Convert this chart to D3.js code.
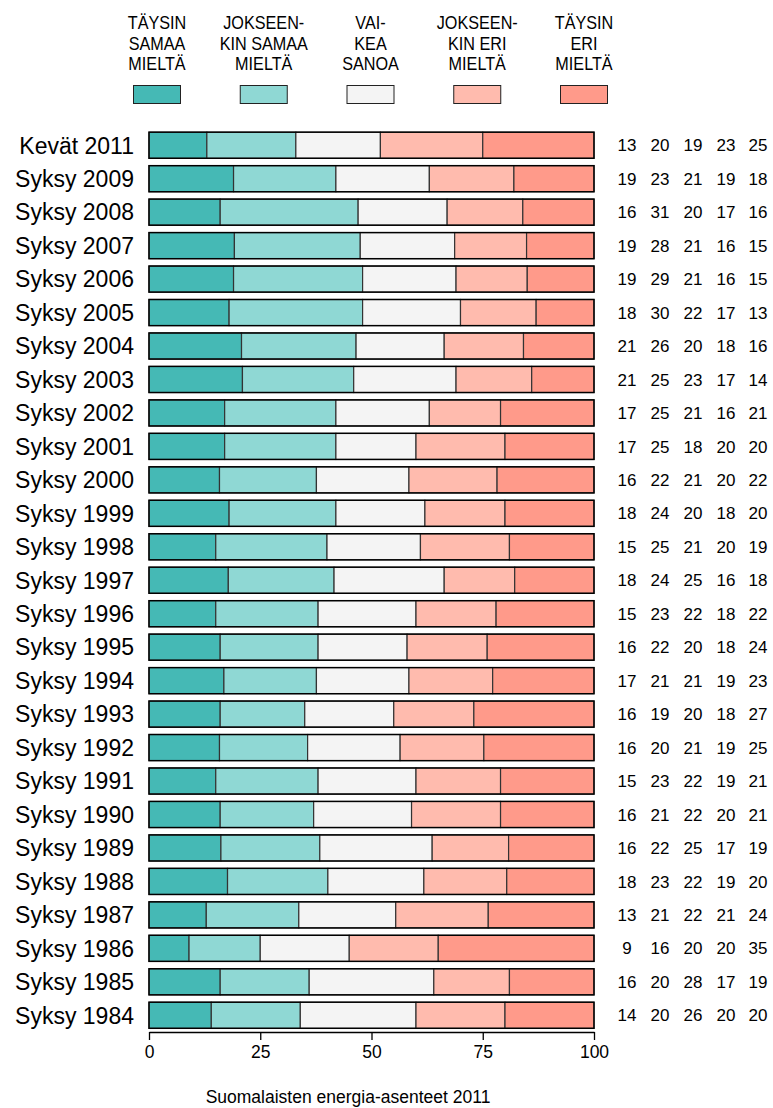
<!DOCTYPE html>
<html><head><meta charset="utf-8">
<script src="https://cdn.jsdelivr.net/npm/d3@7"></script>
<style>
body{margin:0;background:#fff;}
text{font-family:"Liberation Sans",Arial,sans-serif;fill:#000;}
</style></head>
<body>
<svg id="c" width="773" height="1108"></svg>
<script>
const categories = ["Kevät 2011","Syksy 2009","Syksy 2008","Syksy 2007","Syksy 2006","Syksy 2005","Syksy 2004","Syksy 2003","Syksy 2002","Syksy 2001","Syksy 2000","Syksy 1999","Syksy 1998","Syksy 1997","Syksy 1996","Syksy 1995","Syksy 1994","Syksy 1993","Syksy 1992","Syksy 1991","Syksy 1990","Syksy 1989","Syksy 1988","Syksy 1987","Syksy 1986","Syksy 1985","Syksy 1984"];
const taysinSamaa   = [13,19,16,19,19,18,21,21,17,17,16,18,15,18,15,16,17,16,16,15,16,16,18,13,9,16,14];
const jokseenSamaa  = [20,23,31,28,29,30,26,25,25,25,22,24,25,24,23,22,21,19,20,23,21,22,23,21,16,20,20];
const vaikeaSanoa   = [19,21,20,21,21,22,20,23,21,18,21,20,21,25,22,20,21,20,21,22,22,25,22,22,20,28,26];
const jokseenEri    = [23,19,17,16,16,17,18,17,16,20,20,18,20,16,18,18,19,18,19,19,20,17,19,21,20,17,20];
const taysinEri     = [25,18,16,15,15,13,16,14,21,20,22,20,19,18,22,24,23,27,25,21,21,19,20,24,35,19,20];
const seriesNames = [["TÄYSIN","SAMAA","MIELTÄ"],["JOKSEEN-","KIN SAMAA","MIELTÄ"],["VAI-","KEA","SANOA"],["JOKSEEN-","KIN ERI","MIELTÄ"],["TÄYSIN","ERI","MIELTÄ"]];
const colors = ["#45B9B5","#8FD8D4","#F4F4F4","#FFBBAE","#FF9A8A"];
const xTicks = [0,25,50,75,100];
const title = "Suomalaisten energia-asenteet 2011";

const series = [taysinSamaa,jokseenSamaa,vaikeaSanoa,jokseenEri,taysinEri];
const svg = d3.select("#c");
const x = d3.scaleLinear().domain([0,100]).range([149,594]);
const y = d3.scaleBand().domain(categories).range([128.5,1032]).paddingInner(0.22).paddingOuter(0.11);

// legend
const lx = d3.scalePoint().domain(d3.range(5)).range([157,584]);
const leg = svg.append("g");
seriesNames.forEach((lines,i)=>{
  lines.forEach((t,j)=>{
    leg.append("text").attr("transform",`translate(${lx(i)},${29+j*20.7}) scale(0.9,1)`)
      .attr("text-anchor","middle").attr("font-size",18).text(t);
  });
  leg.append("rect").attr("x",lx(i)-23.5).attr("y",85.5).attr("width",47).attr("height",18)
    .attr("fill",colors[i]).attr("stroke","#222").attr("stroke-width",1);
});

// bars
const vx = [627,660,693,726,758];
categories.forEach((c,r)=>{
  const vals = series.map(s=>s[r]);
  const tot = d3.sum(vals);
  let cum = 0;
  const g = svg.append("g");
  vals.forEach((v,i)=>{
    const x0 = x(cum/tot*100), x1 = x((cum+v)/tot*100);
    g.append("rect").attr("x",x0).attr("y",y(c)).attr("width",x1-x0).attr("height",y.bandwidth())
      .attr("fill",colors[i]).attr("stroke","#333").attr("stroke-width",1.2);
    cum += v;
  });
  g.append("rect").attr("x",x(0)).attr("y",y(c)).attr("width",x(100)-x(0)).attr("height",y.bandwidth())
    .attr("fill","none").attr("stroke","#000").attr("stroke-width",1.4);
  svg.append("text").attr("x",134).attr("y",y(c)+y.bandwidth()/2).attr("dy","0.36em")
    .attr("text-anchor","end").attr("font-size",23).text(c);
  vals.forEach((v,i)=>{
    svg.append("text").attr("x",vx[i]).attr("y",y(c)+y.bandwidth()/2).attr("dy","0.36em")
      .attr("text-anchor","middle").attr("font-size",17).text(v);
  });
});

// axis
const ax = svg.append("g").attr("transform","translate(0,1032)")
  .call(d3.axisBottom(x).tickValues(xTicks).tickSize(8).tickSizeOuter(0).tickPadding(6));
ax.select(".domain").attr("stroke","#000").attr("stroke-width",1.3);
ax.selectAll(".tick line").attr("stroke","#000").attr("stroke-width",1.3);
ax.selectAll(".tick text").attr("font-size",17.5).attr("font-family","Liberation Sans, Arial, sans-serif").attr("fill","#000");

svg.append("text").attr("x",348).attr("y",1103).attr("text-anchor","middle").attr("font-size",17.5).text(title);
</script>
</body></html>
